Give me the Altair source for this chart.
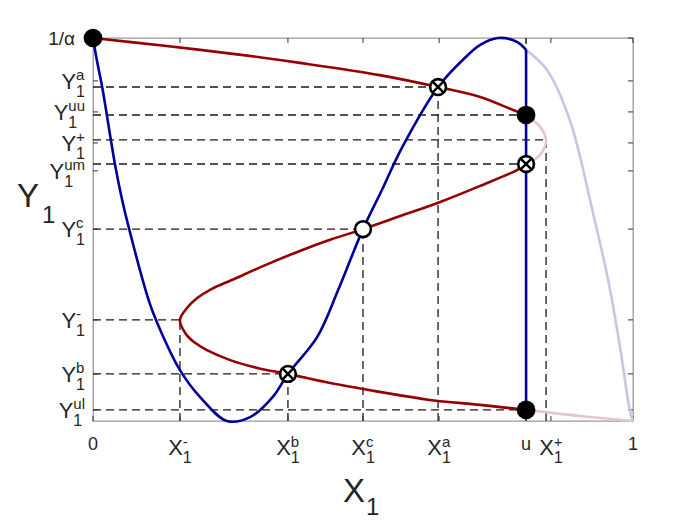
import altair as alt
import pandas as pd

# ---------------- data ----------------
# special abscissae / ordinates (axis units: x in [0,1], y in [0, 1/alpha] with 1/alpha = 1)
X_minus, X_b, X_c, X_a, U, X_plus = 0.161, 0.361, 0.500, 0.639, 0.802, 0.839
Y_top, Y_a, Y_uu, Y_plus, Y_um, Y_c, Y_minus, Y_b, Y_ul = 1.0, 0.872, 0.799, 0.734, 0.671, 0.501, 0.264, 0.123, 0.029

# tick positions and labels
x_tick_vals = [0.0, 0.161, 0.361, 0.500, 0.641, 0.802, 0.848, 1.0]
x_tick_main = ["0", "X", "X", "X", "X", "u", "X", "1"]
x_tick_sup = ["", "-", "b", "c", "a", "", "+", ""]
x_tick_sub = ["", "1", "1", "1", "1", "", "1", ""]

y_tick_vals = [1.0, 0.888, 0.807, 0.726, 0.653, 0.501, 0.264, 0.123, 0.029]
y_tick_main = ["1/α", "Y", "Y", "Y", "Y", "Y", "Y", "Y", "Y"]
y_tick_sup = ["", "a", "uu", "+", "um", "c", "-", "b", "ul"]
y_tick_sub = ["", "1", "1", "1", "1", "1", "1", "1", "1"]

# red nullcline (S-shaped), in four pieces: dark / light / dark / light
red_d1_x = [0.000, 0.124, 0.263, 0.383, 0.531, 0.639, 0.717, 0.778, 0.802]
red_d1_y = [1.000, 0.981, 0.958, 0.935, 0.903, 0.872, 0.846, 0.812, 0.799]
red_l1_x = [0.802, 0.828, 0.839, 0.828, 0.802]
red_l1_y = [0.799, 0.768, 0.734, 0.695, 0.671]
red_d2_x = [0.802, 0.785, 0.717, 0.643, 0.569, 0.500, 0.439, 0.383, 0.319, 0.257, 0.220, 0.193,
            0.174, 0.161, 0.172, 0.187, 0.211, 0.254, 0.306, 0.361, 0.439, 0.531, 0.624, 0.717, 0.802]
red_d2_y = [0.671, 0.655, 0.614, 0.572, 0.535, 0.501, 0.473, 0.444, 0.407, 0.368, 0.345, 0.321,
            0.295, 0.264, 0.227, 0.206, 0.185, 0.159, 0.138, 0.123, 0.099, 0.076, 0.055, 0.042, 0.029]
red_l2_x = [0.802, 0.902, 1.000]
red_l2_y = [0.029, 0.013, 0.000]

# blue nullcline (cubic-like), dark up to u then light
blue_d_x = [0.000, 0.007, 0.017, 0.041, 0.054, 0.065, 0.106, 0.133, 0.161, 0.198, 0.248, 0.291,
            0.333, 0.361, 0.415, 0.454, 0.500, 0.535, 0.572, 0.639, 0.685, 0.717, 0.750, 0.785, 0.802]
blue_d_y = [1.000, 0.943, 0.872, 0.668, 0.577, 0.512, 0.303, 0.211, 0.133, 0.063, 0.000, 0.010,
            0.063, 0.123, 0.219, 0.342, 0.501, 0.603, 0.713, 0.872, 0.943, 0.982, 1.000, 0.990, 0.969]
blue_l_x = [0.802, 0.841, 0.883, 0.926, 0.954, 0.976, 0.994, 1.000]
blue_l_y = [0.969, 0.916, 0.786, 0.543, 0.368, 0.193, 0.029, 0.000]

# equilibria
filled_x, filled_y = [0.0, U, U], [Y_top, Y_uu, Y_ul]
open_x, open_y = [X_c], [Y_c]
cross_x, cross_y = [X_a, U, X_b], [Y_a, Y_um, Y_b]

# ---------------- styling ----------------
PW, PH = 540, 383
FONT = "Liberation Sans"
TXT = "#262626"
RED, RED_L = "#960000", "#e6c6c6"
BLUE, BLUE_L = "#000096", "#c6c6e8"
MAIN_FS, SUP_FS, SUB_FS = 22, 15, 16

XS = alt.Scale(domain=[0, 1], nice=False, zero=False)
YS = alt.Scale(domain=[0, 1], nice=False, zero=False)


def X(f):
    return alt.X(f, type="quantitative", scale=XS, axis=None)


def Y(f):
    return alt.Y(f, type="quantitative", scale=YS, axis=None)


CW = {'X': .667, 'Y': .667, 'a': .556, 'b': .556, 'c': .5, 'u': .556, 'm': .833,
      'l': .222, '+': .584, '-': .333, '1': .556}


def tw(s, fs):
    return sum(CW.get(ch, .556) for ch in s) * fs


# ---------------- curves ----------------
def seg_df(pieces):
    rows = []
    for name, xs, ys in pieces:
        for i, (a, b) in enumerate(zip(xs, ys)):
            rows.append({"x": a, "y": b, "i": i, "seg": name})
    return pd.DataFrame(rows)


light_df = seg_df([("rl1", red_l1_x, red_l1_y), ("rl2", red_l2_x, red_l2_y),
                   ("bl", blue_l_x, blue_l_y)])
light_df["c"] = light_df["seg"].map(lambda s: RED_L if s.startswith("r") else BLUE_L)
dark_df = seg_df([("rd1", red_d1_x, red_d1_y), ("rd2", red_d2_x, red_d2_y),
                  ("bd", blue_d_x, blue_d_y)])
dark_df["c"] = dark_df["seg"].map(lambda s: RED if s.startswith("r") else BLUE)

light = alt.Chart(light_df).mark_line(interpolate="catmull-rom", strokeWidth=2.6).encode(
    x=X("x"), y=Y("y"), order=alt.Order("i:Q"), detail="seg:N",
    color=alt.Color("c:N", scale=None))
dark = alt.Chart(dark_df).mark_line(interpolate="catmull-rom", strokeWidth=2.6).encode(
    x=X("x"), y=Y("y"), order=alt.Order("i:Q"), detail="seg:N",
    color=alt.Color("c:N", scale=None))

# vertical blue segment at u
vline_df = pd.DataFrame({"x": [U], "y": [blue_d_y[-1]], "y2": [Y_ul]})
vline = alt.Chart(vline_df).mark_rule(color=BLUE, strokeWidth=2.6).encode(
    x=X("x"), y=Y("y"), y2="y2")

# ---------------- dashed guides ----------------
h_df = pd.DataFrame({"y": [Y_a, Y_uu, Y_plus, Y_um, Y_c, Y_minus, Y_b, Y_ul],
                     "x2": [X_a, U, X_plus, U, X_c, X_minus, X_b, U]})
h_df["x"] = 0.0
v_df = pd.DataFrame({"x": [X_minus, X_b, X_c, X_a, U, X_plus],
                     "y2": [Y_minus, Y_b, Y_c, Y_a, Y_top, Y_plus]})
v_df["y"] = 0.0
dash = dict(color="#1a1a1a", strokeWidth=1.3, strokeDash=[8, 5])
hd = alt.Chart(h_df).mark_rule(**dash).encode(x=X("x"), x2="x2", y=Y("y"))
vd = alt.Chart(v_df).mark_rule(**dash).encode(x=X("x"), y=Y("y"), y2="y2")

# ---------------- ticks (inward, mirrored) ----------------
xt = pd.DataFrame({"x": x_tick_vals, "b": 0.0, "t": 1.0})
yt = pd.DataFrame({"y": y_tick_vals, "l": 0.0, "r": 1.0})
tk = dict(color="#333333", strokeWidth=1)
t_b = alt.Chart(xt).mark_rule(y2Offset=-5, **tk).encode(x=X("x"), y=Y("b"), y2="b")
t_t = alt.Chart(xt).mark_rule(y2Offset=5, **tk).encode(x=X("x"), y=Y("t"), y2="t")
t_l = alt.Chart(yt).mark_rule(x2Offset=5, **tk).encode(y=Y("y"), x=X("l"), x2="l")
t_r = alt.Chart(yt).mark_rule(x2Offset=-5, **tk).encode(y=Y("y"), x=X("r"), x2="r")

# ---------------- markers ----------------
fdf = pd.DataFrame({"x": filled_x, "y": filled_y})
odf = pd.DataFrame({"x": open_x + cross_x, "y": open_y + cross_y})
cdf = pd.DataFrame({"x": cross_x, "y": cross_y})
m_fill = alt.Chart(fdf).mark_point(shape="circle", filled=True, color="black", size=350,
                                   opacity=1).encode(x=X("x"), y=Y("y"))
m_open = alt.Chart(odf).mark_point(shape="circle", filled=True, fill="white", stroke="black",
                                   strokeWidth=2.6, size=250, opacity=1).encode(x=X("x"), y=Y("y"))
m_cross = alt.Chart(cdf).mark_point(shape="M-0.62,-0.62L0.62,0.62M-0.62,0.62L0.62,-0.62",
                                    filled=False, stroke="black", strokeWidth=2.5, size=250,
                                    opacity=1).encode(x=X("x"), y=Y("y"))

# ---------------- tick labels ----------------
main_rows, sup_rows, sub_rows, num_rows = [], [], [], []
for v, m, sp, sb in zip(x_tick_vals, x_tick_main, x_tick_sup, x_tick_sub):
    if not sp and not sb:
        num_rows.append({"x": v, "y": -29 / PH, "t": m})
        continue
    wm = tw(m, MAIN_FS)
    blk = max(tw(sp, SUP_FS), tw(sb, SUB_FS))
    left = -(wm + blk) / 2
    main_rows.append({"x": v + left / PW, "y": -34 / PH, "t": m})
    sup_rows.append({"x": v + (left + wm) / PW, "y": -26 / PH, "t": sp})
    sub_rows.append({"x": v + (left + wm) / PW, "y": -42 / PH, "t": sb})

alpha_rows = []
for v, m, sp, sb in zip(y_tick_vals, y_tick_main, y_tick_sup, y_tick_sub):
    if not sp and not sb:
        alpha_rows.append({"x": -18 / PW, "y": v - 7 / PH, "t": m})
        continue
    blk = max(tw(sp, SUP_FS), tw(sb, SUB_FS))
    start = -8 - blk
    main_rows.append({"x": (start - tw(m, MAIN_FS)) / PW, "y": v - 8 / PH, "t": m})
    sup_rows.append({"x": start / PW, "y": v + 1 / PH, "t": sp})
    sub_rows.append({"x": start / PW, "y": v - 16 / PH, "t": sb})


def text_layer(rows, fs, align="left"):
    return alt.Chart(pd.DataFrame(rows)).mark_text(
        align=align, baseline="alphabetic", font=FONT, fontSize=fs, color=TXT).encode(
        x=X("x"), y=Y("y"), text="t:N")


lab_main = text_layer(main_rows, MAIN_FS)
lab_sup = text_layer(sup_rows, SUP_FS)
lab_sub = text_layer(sub_rows, SUB_FS)
lab_num = text_layer(num_rows, 18, "center")
lab_alpha = text_layer(alpha_rows, 19, "right")

# ---------------- axis titles ----------------
title_big = [{"x": (343 - 93) / PW, "y": -81 / PH, "t": "X"},
             {"x": (17 - 93) / PW, "y": (421 - 207) / PH, "t": "Y"}]
title_sub = [{"x": (366 - 93) / PW, "y": -94 / PH, "t": "1"},
             {"x": (42 - 93) / PW, "y": (421 - 223) / PH, "t": "1"}]
tt_big = text_layer(title_big, 33)
tt_sub = text_layer(title_sub, 24)

chart = alt.layer(
    hd, vd, t_b, t_t, t_l, t_r, light, dark, vline, m_fill, m_open, m_cross,
    lab_main, lab_sup, lab_sub, lab_num, lab_alpha, tt_big, tt_sub
).properties(
    width=PW, height=PH,
    autosize=alt.AutoSizeParams(type="none"),
    padding={"left": 85, "top": 30, "right": 50, "bottom": 98},
).configure_view(stroke="#999999", strokeWidth=1.3)

chart.save("out.html", embed_options={"renderer": "svg", "actions": False})
